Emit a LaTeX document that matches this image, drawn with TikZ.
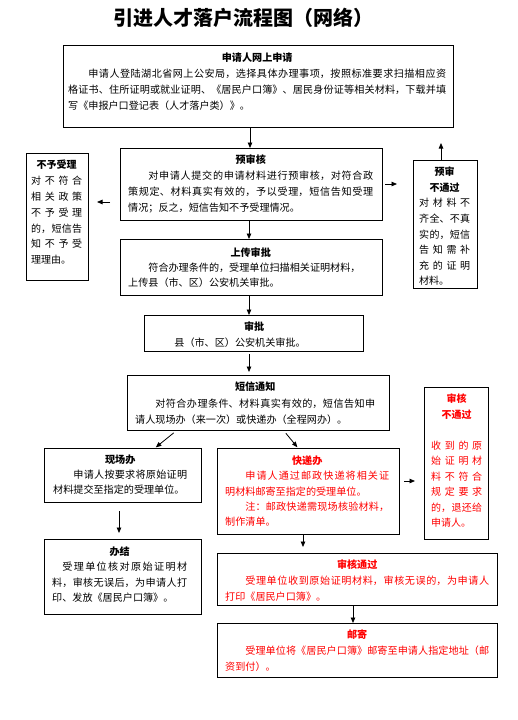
\documentclass[tikz,border=0pt]{standalone}
\usepackage{fontspec}
\setmainfont{Noto Sans CJK SC}
\usetikzlibrary{arrows.meta}
\XeTeXlinebreaklocale "zh"
\XeTeXlinebreakskip=0pt plus 2pt
\tolerance=10000
\hbadness=10000
\hfuzz=2pt
\newcommand\fsz[2]{\fontsize{#1}{#2}\selectfont}
\newcommand\btitle[1]{{\centering\bfseries #1\par}}
\begin{document}
\begin{tikzpicture}[x=1pt,y=-1pt,
  box/.style={draw, line width=1pt, fill=white, inner sep=0pt, anchor=north west},
  txt/.style={inner sep=0pt, anchor=base west, align=justify},
  arr/.style={-{Triangle[length=5.5pt,width=4.5pt]}, line width=0.8pt},
  redtxt/.style={text=red}]
\useasboundingbox (0,0) rectangle (517,720);
\fill[white] (0,0) rectangle (517,720);

\node[font=\fsz{20}{24}\bfseries] (title) at (243,18) {引进人才落户流程图（网络）};

% boxes
\node[box, minimum width=390pt, minimum height=82pt] (b1) at (63,45) {};
\node[box, minimum width=262pt, minimum height=72pt] (b2) at (120,148) {};
\node[box, minimum width=62pt, minimum height=127pt] (nb) at (26,153) {};
\node[box, minimum width=64pt, minimum height=128pt] (yb) at (413,160) {};
\node[box, minimum width=262pt, minimum height=56pt] (b3) at (120,239) {};
\node[box, minimum width=219pt, minimum height=36pt] (b4) at (144,315) {};
\node[box, minimum width=262pt, minimum height=55pt] (b5) at (127,375) {};
\node[box, minimum width=157pt, minimum height=54pt] (xc) at (44,448) {};
\node[box, minimum width=182pt, minimum height=86pt] (kd) at (217,448) {};
\node[box, minimum width=64pt, minimum height=152pt] (sb) at (424,387) {};
\node[box, minimum width=157pt, minimum height=75pt] (bj) at (44,539) {};
\node[box, minimum width=280pt, minimum height=52pt] (tg) at (217,553) {};
\node[box, minimum width=280pt, minimum height=54pt] (yj) at (217,623) {};

% texts
\node[txt, text width=378pt, font=\fsz{10.1}{16.2}] (t1) at (68,61.2) {\btitle{申请人网上申请}\hspace*{2em}申请人登陆湖北省网上公安局，选择具体办理事项，按照标准要求扫描相应资\linebreak 格证书、住所证明或就业证明、《居民户口簿》、居民身份证等相关材料，下载并填\linebreak 写《申报户口登记表（人才落户类）》。};

\node[txt, text width=245pt, font=\fsz{10.1}{15.8}] (t2) at (128,163.9) {\btitle{预审核}\hspace*{2em}对申请人提交的申请材料进行预审核，对符合政\linebreak 策规定、材料真实有效的，予以受理，短信告知受理\linebreak 情况；反之，短信告知不予受理情况。};

\node[txt, text width=51pt, font=\fsz{10}{15.8}] (tn) at (31,168.9) {\btitle{不予受理}对不符合\linebreak 相关政策\linebreak 不予受理\linebreak 的，短信告\linebreak 知不予受\linebreak 理理由。};

\node[txt, text width=51pt, font=\fsz{10}{15.6}] (ty) at (419,175.6) {\btitle{预审\par 不通过}对材料不\linebreak 齐全、不真\linebreak 实的，短信\linebreak 告知需补\linebreak 充的证明\linebreak 材料。};

\node[txt, text width=245pt, font=\fsz{10.1}{14.9}] (t3) at (128,256.2) {\btitle{上传审批}\hspace*{2em}符合办理条件的，受理单位扫描相关证明材料，\\上传县（市、区）公安机关审批。};

\node[txt, text width=200pt, font=\fsz{10.1}{15.6}] (t4) at (154,330.6) {\btitle{审批}\hspace*{2em}县（市、区）公安机关审批。};

\node[txt, text width=240pt, font=\fsz{10.1}{16.6}] (t5) at (135,390.6) {\btitle{短信通知}\hspace*{2em}对符合办理条件、材料真实有效的，短信告知申\linebreak 请人现场办（来一次）或快递办（全程网办）。};

\node[txt, text width=134pt, font=\fsz{10.1}{15}] (tx) at (53,463.9) {\btitle{现场办}\hspace*{2em}申请人按要求将原始证明\linebreak 材料提交至指定的受理单位。};

\node[txt, redtxt, text width=164pt, font=\fsz{10.1}{15.3}] (tk) at (225,464.6) {\btitle{快递办}\hspace*{2em}申请人通过邮政快递将相关证\linebreak 明材料邮寄至指定的受理单位。\par\hspace*{2em}注：邮政快递需现场核验材料，\linebreak 制作清单。};

\node[txt, redtxt, text width=51pt, font=\fsz{10}{15.5}] (ts) at (431,402.9) {\btitle{审核\par 不通过}\vspace{15.5pt}收到的原\linebreak 始证明材\linebreak 料不符合\linebreak 规定要求\linebreak 的，退还给\linebreak 申请人。};

\node[txt, text width=135pt, font=\fsz{10.1}{15.3}] (tb) at (52,555.6) {\btitle{办结}\hspace*{1em}受理单位核对原始证明材\linebreak 料，审核无误后，为申请人打\linebreak 印、发放《居民户口簿》。};

\node[txt, redtxt, text width=264pt, font=\fsz{10.1}{15.8}] (tt) at (225,568.9) {\btitle{审核通过}\hspace*{2em}受理单位收到原始证明材料，审核无误的，为申请人\linebreak 打印《居民户口簿》。};

\node[txt, redtxt, text width=264pt, font=\fsz{10.1}{15.8}] (tj) at (225,638.9) {\btitle{邮寄}\hspace*{2em}受理单位将《居民户口簿》邮寄至申请人指定地址（邮\linebreak 资到付）。};

% connectors
\coordinate (up) at (441,143);
\draw[arr] (b1.south -| 250,0) -- (b2.north -| 250,0);
\draw[arr] (b2.south -| 249,0) -- (b3.north -| 249,0);
\draw[arr] (b3.south -| 249,0) -- (b4.north -| 249,0);
\draw[arr, shorten <=2pt, shorten >=3pt] (b4.south -| 249,0) -- (b5.north -| 249,0);
\draw[arr, shorten <=10pt, shorten >=8pt] (b2.west |- 0,202) -- (nb.east |- 0,202);
\draw[arr, shorten <=2pt, shorten >=16pt] (b2.east |- 0,184) -- (yb.west |- 0,184);
\draw[arr] (yb.north -| 441,0) -- (up);
\draw[arr, shorten <=3pt, shorten >=1pt] (b5.south -| 176,0) -- (xc.north -| 155,0);
\draw[arr, shorten <=3pt, shorten >=1pt] (b5.south -| 284,0) -- (kd.north -| 298,0);
\draw[arr, shorten <=8pt, shorten >=6pt] (xc.south -| 119,0) -- (bj.north -| 119,0);
\draw[arr, shorten >=6pt] (kd.south -| 303,0) -- (tg.north -| 303,0);
\draw[arr] (tg.south -| 353,0) -- (yj.north -| 353,0);
\draw[arr, shorten <=4pt, shorten >=9pt] (kd.east |- 0,481) -- (sb.west |- 0,481);
\end{tikzpicture}
\end{document}
